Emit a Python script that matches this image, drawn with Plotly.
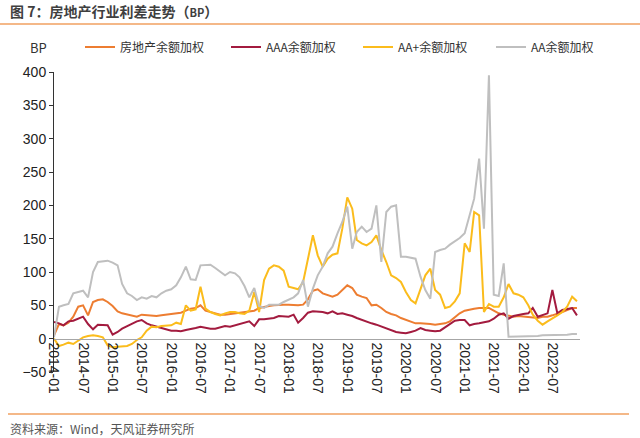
import pandas as pd
import plotly.graph_objects as go

# 月度时间轴：2014-01 ~ 2022-12
months = pd.date_range("2014-01-01", "2022-12-01", freq="MS")

# 房地产余额加权
re_weighted = [
    5, 22, 20, 24, 33, 48, 50, 35, 55, 58, 59, 55,
    49, 41, 38, 36, 34, 33, 36, 35, 35, 34, 35, 36,
    37, 37, 39, 42, 45, 46, 50, 42, 40, 39, 36, 36,
    37, 38, 39, 39, 41, 42, 46, 48, 49, 50, 51, 51,
    51, 50, 50, 51, 59, 72, 74, 68, 65, 63, 66, 73,
    80, 76, 66, 63, 61, 50, 51, 46, 40, 37, 35, 31,
    28, 26, 23, 23, 23, 22, 21, 22, 23, 26, 32, 38,
    42, 44, 45, 46, 46, 46, 42, 38, 36, 35, 33, 34,
    33, 33, 32, 31, 33, 33, 35, 37, 40, 43, 46, 46,
]
# AAA余额加权
aaa = [
    25, 23, 20, 26, 27, 30, 33, 22, 14, 21, 20, 20,
    6, 10, 15, 19, 22, 26, 28, 23, 20, 18, 15, 14,
    12, 12, 11, 13, 14, 16, 18, 16, 15, 15, 17, 19,
    18, 20, 22, 24, 26, 19, 29, 29, 30, 31, 34, 33,
    33, 36, 24, 31, 39, 41, 41, 40, 38, 41, 37, 38,
    36, 34, 31, 28, 25, 23, 21, 18, 15, 12, 10, 9,
    8, 10, 12, 16, 13, 12, 11, 12, 17, 22, 27, 28,
    28, 20, 22, 23, 24, 26, 30, 36, 38, 30, 34, 36,
    37, 38, 46, 33, 36, 38, 73, 38, 43, 45, 46, 35,
]
# AA+余额加权
aa_plus = [
    0, -11, -9, -6, -8, -3, 2, 4, 5, 4, 2, -10,
    -13, -12, -12, -11, -8, -2, 2, 12, 18, 17, 19, 19,
    20, 24, 22, 50, 42, 44, 78, 45, 40, 37, 35, 38,
    40, 40, 38, 37, 42, 70, 40, 88, 105, 110, 108, 102,
    78, 76, 74, 85, 119, 155, 125, 108, 120, 126, 128, 165,
    212, 195, 148, 143, 140, 145, 155, 133, 115, 95, 91, 85,
    70, 58, 53, 75, 95, 105, 73, 66, 46, 48, 56, 68,
    143, 130, 190, 185, 40, 52, 48, 48, 62, 82, 68, 66,
    62, 50, 36, 27, 21, 26, 30, 35, 40, 48, 63, 56,
]
# AA余额加权
aa = [
    2, 48, 50, 52, 68, 70, 72, 62, 100, 115, 116, 117,
    114, 110, 82, 68, 64, 58, 62, 60, 64, 62, 68, 72,
    74, 80, 92, 108, 89, 88, 110, 111, 111, 106, 100, 95,
    100, 98, 92, 79, 62, 76, 49, 46, 51, 51, 51, 55,
    58, 62, 68, 88, 48, 75, 95, 108, 128, 138, 158, 175,
    198, 135, 160, 168, 160, 165, 200, 115, 190, 198, 200, 123,
    123, 122, 120, 93, 73, 60, 130, 133, 135, 141, 146, 151,
    158, 185, 210, 270, 165, 395, 66, 64, 113, 3, 3, 3,
    3, 3, 4, 4, 5, 5, 5, 6, 6, 6, 7, 7,
]

series = [
    ("房地产余额加权", re_weighted, "#ED7D31"),
    ("AAA余额加权", aaa, "#A31B3F"),
    ("AA+余额加权", aa_plus, "#FBBC1C"),
    ("AA余额加权", aa, "#BFBFBF"),
]

cjk = "Noto Sans CJK SC"


def px_x(px):
    return (px - 54) / 526


def px_y(py):
    return (372 - py) / 300


# 每个图例项单独放置，对应原图的位置
legend_px = [80, 226, 358, 491]
legend_ids = ["legend", "legend2", "legend3", "legend4"]

fig = go.Figure()
for (name, vals, color), lid in zip(series, legend_ids):
    fig.add_trace(go.Scatter(x=months, y=vals, name=name, mode="lines",
                             line=dict(color=color, width=2), legend=lid))

legend_style = {}
for lid, lx in zip(legend_ids, legend_px):
    legend_style[lid] = dict(orientation="h", x=px_x(lx), y=px_y(47), xanchor="left", yanchor="middle",
                             font=dict(family=cjk, size=12, color="#333"), bgcolor="rgba(0,0,0,0)")

fig.update_layout(
    width=640, height=438,
    margin=dict(l=54, r=60, t=72, b=66),
    paper_bgcolor="white", plot_bgcolor="white",
    font=dict(family="Liberation Sans, Arial", size=14, color="#222"),
    showlegend=True,
    xaxis=dict(type="date", range=["2014-01-01", "2022-12-20"],
               tickmode="linear", tick0="2014-01-01", dtick="M6", tickformat="%Y-%m",
               tickangle=90, showline=True, linecolor="#A6A6A6", linewidth=1,
               anchor="free", position=50 / 450, showgrid=False, zeroline=False, ticks=""),
    yaxis=dict(range=[-50, 400], dtick=50, showline=True, linecolor="#333", linewidth=1,
               ticks="outside", ticklen=4, tickcolor="#333", showgrid=False, zeroline=False),
    **legend_style,
)

fig.add_annotation(text="<b>图 7：房地产行业利差走势（<span style='font-size:11px'>BP</span>）</b>",
                   xref="paper", yref="paper", x=px_x(8), y=px_y(11), xanchor="left", yanchor="middle",
                   showarrow=False, font=dict(family=cjk, size=14, color="#3F3F3F"))
fig.add_annotation(text="BP", xref="paper", yref="paper", x=px_x(28), y=px_y(47),
                   xanchor="left", yanchor="middle", showarrow=False,
                   font=dict(family=cjk, size=13, color="#333"))
fig.add_annotation(text="资料来源：Wind，天风证券研究所", xref="paper", yref="paper",
                   x=px_x(8), y=px_y(428), xanchor="left", yanchor="middle", showarrow=False,
                   font=dict(family=cjk, size=12, color="#555"))

# 标题下方和来源上方的橙色分隔线
fig.add_shape(type="line", xref="paper", yref="paper", x0=px_x(0), x1=px_x(640),
              y0=px_y(24), y1=px_y(24), line=dict(color="#F0A060", width=1.5))
fig.add_shape(type="line", xref="paper", yref="paper", x0=px_x(8), x1=px_x(629),
              y0=px_y(414), y1=px_y(414), line=dict(color="#F0A060", width=1.5))

# 去掉页面默认的 8px 边距，隐藏工具栏
fig.write_html("out.html", config={"displayModeBar": False},
               post_script="document.body.style.margin='0';")
